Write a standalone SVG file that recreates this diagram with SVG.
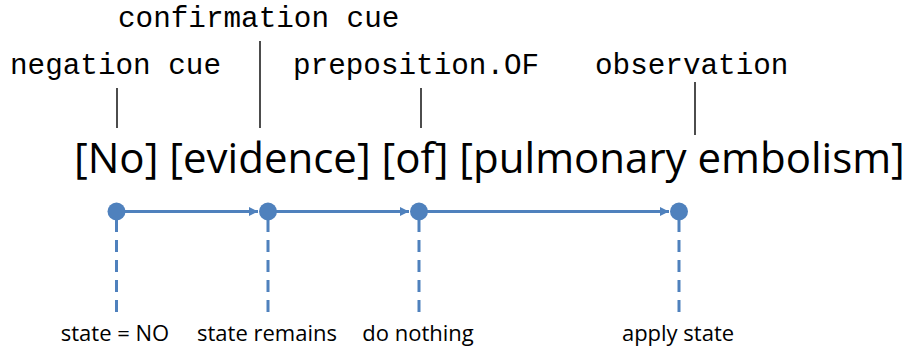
<svg xmlns="http://www.w3.org/2000/svg" width="904" height="350" viewBox="0 0 904 350">
<defs>
<style>
.mono{font-family:"Liberation Mono","Courier New",monospace;font-size:29.3px;fill:#000}
.main{font-family:"Open Sans","Liberation Sans",sans-serif;font-size:42px;fill:#000}
.lbl{font-family:"Open Sans","Liberation Sans",sans-serif;font-size:22px;fill:#000;text-anchor:middle}
.tick{stroke:#000;stroke-width:1.4}
.flow{stroke:#4f81bd;stroke-width:3;fill:none}
.dash{stroke:#4f81bd;stroke-width:3;stroke-dasharray:12 8;fill:none}
.dot{fill:#4f81bd}
</style>
<marker id="arr" viewBox="0 0 10 10" refX="10" refY="5" markerWidth="3" markerHeight="4" markerUnits="strokeWidth" orient="auto">
<path d="M0,0 L10,5 L0,10 z" fill="#4f81bd"/>
</marker>
</defs>
<rect width="904" height="350" fill="#fff"/>
<g id="annotations">
<text class="mono" x="10" y="74">negation cue</text>
<text class="mono" x="118" y="27">confirmation cue</text>
<text class="mono" x="293" y="74">preposition.OF</text>
<text class="mono" x="595" y="74">observation</text>
<line class="tick" x1="117" y1="88" x2="117" y2="128"/>
<line class="tick" x1="260" y1="41" x2="260" y2="128"/>
<line class="tick" x1="421" y1="88" x2="421" y2="128"/>
<line class="tick" x1="695" y1="82" x2="695" y2="135"/>
</g>
<g id="sentence">
<text class="main" x="74" y="173">[No] [evidence] [of] [pulmonary embolism]</text>
</g>
<g id="connectors">
<line class="flow" x1="116" y1="211.5" x2="258" y2="211.5" marker-end="url(#arr)"/>
<line class="flow" x1="268" y1="211.5" x2="409" y2="211.5" marker-end="url(#arr)"/>
<line class="flow" x1="419" y1="211.5" x2="669" y2="211.5" marker-end="url(#arr)"/>
<line class="dash" x1="116.5" y1="220" x2="116.5" y2="312"/>
<line class="dash" x1="268" y1="220" x2="268" y2="312"/>
<line class="dash" x1="419" y1="220" x2="419" y2="312"/>
<line class="dash" x1="679" y1="220" x2="679" y2="312"/>
</g>
<g id="node-no">
<circle class="dot" cx="116.5" cy="211.5" r="9"/>
<text class="lbl" x="115" y="341">state = NO</text>
</g>
<g id="node-evidence">
<circle class="dot" cx="268" cy="211.5" r="9"/>
<text class="lbl" x="267" y="341">state remains</text>
</g>
<g id="node-of">
<circle class="dot" cx="419" cy="211.5" r="9"/>
<text class="lbl" x="418" y="341">do nothing</text>
</g>
<g id="node-pe">
<circle class="dot" cx="679" cy="211.5" r="9"/>
<text class="lbl" x="678" y="341">apply state</text>
</g>
</svg>
